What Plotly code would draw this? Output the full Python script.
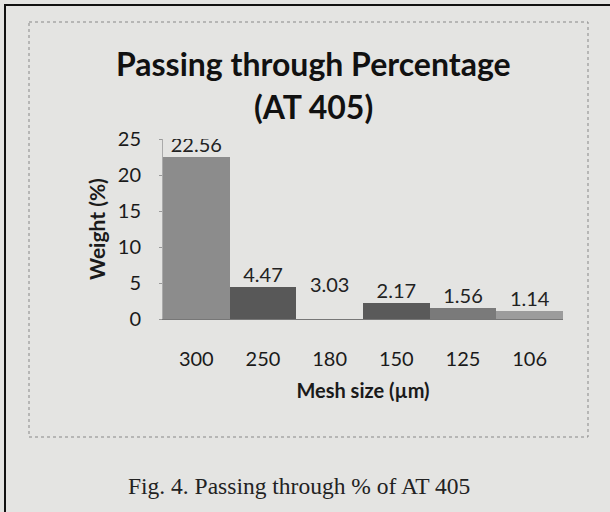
import plotly.graph_objects as go

mesh_sizes = ["300", "250", "180", "150", "125", "106"]
weights = [22.56, 4.47, 3.03, 2.17, 1.56, 1.14]
bar_heights = [22.56, 4.47, 0.0, 2.17, 1.56, 1.14]  # 180 bar is not visible in the print
bar_colors = ["#8c8c8c", "#585858", "#d9d9d9", "#5a5a5a", "#7a7a7a", "#9c9c9c"]
y_ticks = [0, 5, 10, 15, 20, 25]

L, R, T, B = 163, 563, 139, 319
W, H = 610, 512

def px(x):
    return (x - L) / (R - L)

def py(y):
    return (B - y) / (B - T)

fig = go.Figure()
fig.add_trace(go.Bar(
    x=mesh_sizes, y=bar_heights,
    marker=dict(color=bar_colors, line=dict(width=0)),
    textposition="none",
    width=1.0,
    hoverinfo="skip",
))
# data labels above each bar at the reported value height
fig.add_trace(go.Scatter(
    x=mesh_sizes, y=weights, mode="text",
    text=[f"{v:.2f}" for v in weights],
    textposition="top center",
    textfont=dict(family="Lato", size=20, color="#222"),
    hoverinfo="skip",
))

fig.update_layout(
    width=W, height=H,
    margin=dict(l=L, r=W - R, t=T, b=H - B, pad=0),
    paper_bgcolor="#e4e4e2",
    plot_bgcolor="rgba(0,0,0,0)",
    showlegend=False,
    bargap=0,
    font=dict(family="Lato", color="#1a1a1a"),
    xaxis=dict(
        type="category", showgrid=False, zeroline=False,
        showline=True, linecolor="#777", linewidth=1,
        ticks="", tickfont=dict(size=20, color="#1a1a1a"),
        ticklabelstandoff=22,
        title=dict(text="<b>Mesh size (µm)</b>", font=dict(size=20), standoff=14),
    ),
    yaxis=dict(
        range=[0, 25], tickvals=y_ticks, showgrid=False, zeroline=False,
        showline=True, linecolor="#aaa", linewidth=1, ticks="outside",
        ticklen=3, tickcolor="#999",
        ticklabelstandoff=14,
        tickfont=dict(size=20, color="#1a1a1a"),
        title=dict(text="<b>Weight (%)</b>", font=dict(size=21), standoff=6),
    ),
)

annotations = [
    dict(text="<b>Passing through Percentage</b>", x=px(313), y=py(64),
         font=dict(family="Lato", size=32, color="#111")),
    dict(text="<b>(AT 405)</b>", x=px(313), y=py(106),
         font=dict(family="Lato", size=32, color="#111")),
    dict(text="Fig. 4. Passing through % of AT 405", x=px(299), y=py(486),
         font=dict(family="Liberation Serif", size=23.5, color="#222")),
]
for a in annotations:
    a.update(xref="paper", yref="paper", showarrow=False, xanchor="center", yanchor="middle")
fig.update_layout(annotations=annotations)

shapes = [
    # dotted inner chart border
    dict(type="rect", x0=px(29), x1=px(588), y0=py(22), y1=py(437),
         line=dict(color="#888", width=1, dash="dot")),
    # outer black frame (left and top)
    dict(type="line", x0=px(5), x1=px(5), y0=py(4), y1=py(512),
         line=dict(color="#111", width=2)),
    dict(type="line", x0=px(4), x1=px(610), y0=py(5), y1=py(5),
         line=dict(color="#111", width=2)),
]
for s in shapes:
    s.update(xref="paper", yref="paper")
fig.update_layout(shapes=shapes)

fig.write_html(
    "out.html",
    config={"displayModeBar": False},
    post_script="document.body.style.margin='0';document.body.style.background='#e4e4e2';",
)
